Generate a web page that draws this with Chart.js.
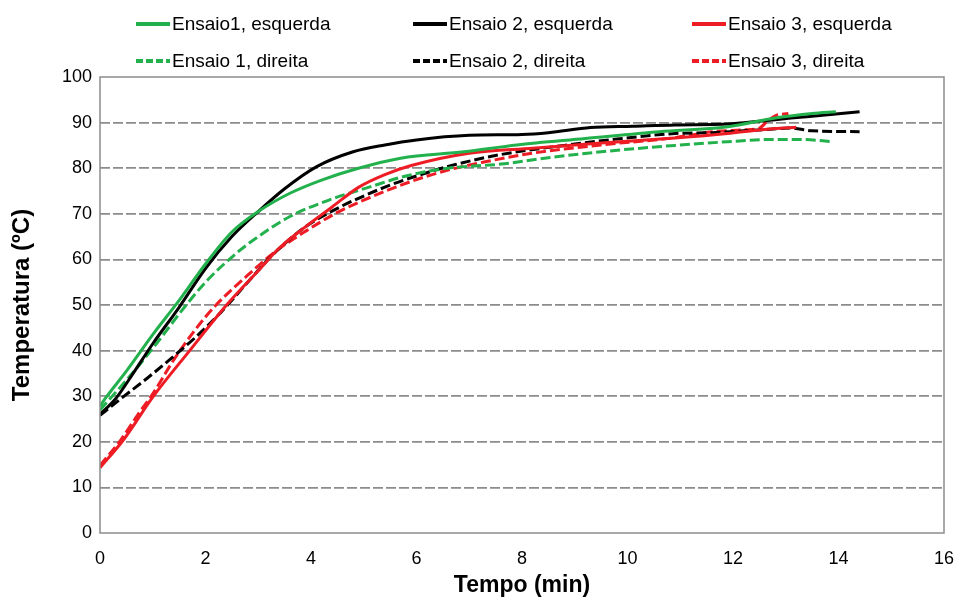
<!DOCTYPE html>
<html>
<head>
<meta charset="utf-8">
<script src="https://cdn.jsdelivr.net/npm/chart.js@4"></script>
<style>
  html, body { margin: 0; padding: 0; background: #fff; }
  #wrap { position: relative; width: 957px; height: 597px; font-family: "Liberation Sans", Arial, sans-serif; }
  #legend { position: absolute; left: 0; top: 0; width: 957px; height: 80px; }
  .lg-item { position: absolute; display: flex; align-items: center; font-size: 19px; color: #000; white-space: nowrap; }
  .lg-item svg { margin-right: 2px; }
</style>
</head>
<body>
<div id="wrap">
  <canvas id="chart" width="957" height="597"></canvas>
  <div id="legend"></div>
</div>
<script>
// ── DADOS ─────────────────────────────────────────────
const LABELS = ['Ensaio1, esquerda', 'Ensaio 2, esquerda', 'Ensaio 3, esquerda',
                'Ensaio 1, direita', 'Ensaio 2, direita', 'Ensaio 3, direita'];
const X_TICKS = [0, 2, 4, 6, 8, 10, 12, 14, 16];
const Y_TICKS = [0, 10, 20, 30, 40, 50, 60, 70, 80, 90, 100];

// Ensaio 1, esquerda
const t1e = [0, 0.1, 0.5, 1.0, 1.5, 2.0, 2.5, 3.0, 3.6, 4.2, 4.9, 5.7, 6.9, 7.9, 9.2, 10.6, 11.9, 12.8, 13.5, 13.95];
const T1e = [27.8, 29.5, 35.5, 43.5, 51, 59, 66, 70.5, 74.5, 77.4, 80.0, 82.2, 83.6, 85.1, 86.5, 88.0, 89.1, 91.0, 92.0, 92.4];
// Ensaio 2, esquerda
const t2e = [0, 0.3, 0.6, 1.0, 1.5, 2.0, 2.5, 3.0, 3.5, 4.1, 4.8, 5.4, 6.0, 7.0, 8.0, 8.5, 9.3, 10.1, 10.9, 11.9, 12.5, 13.1, 13.8, 14.4];
const T2e = [26, 29.5, 34.5, 41.5, 49.5, 58, 65, 70.5, 75.5, 80.3, 83.6, 85.1, 86.2, 87.2, 87.4, 87.8, 88.9, 89.2, 89.5, 89.7, 90.3, 91.0, 91.7, 92.4];
// Ensaio 3, esquerda
const t3e = [0, 0.45, 1.0, 1.7, 2.4, 3.0, 3.4, 3.9, 4.4, 4.9, 5.4, 5.9, 7.0, 8.2, 9.5, 10.9, 11.9, 12.5, 13.2];
const T3e = [14.3, 20.5, 29.8, 40, 50, 57.5, 62.5, 67.2, 71.5, 75.8, 78.6, 80.6, 83.3, 84.4, 85.5, 86.6, 87.6, 88.4, 89.0];
// Ensaio 1, direita
const t1d = [0, 0.5, 1.0, 1.6, 2.0, 2.6, 3.0, 3.6, 4.36, 5.12, 5.8, 6.6, 7.6, 8.5, 9.5, 10.9, 11.9, 12.7, 13.3, 13.9];
const T1d = [27, 33.5, 40.5, 49.5, 55, 61.5, 65, 69.4, 73.1, 75.9, 78.3, 80, 80.9, 82.3, 83.6, 85, 85.8, 86.3, 86.3, 85.8];
// Ensaio 2, direita
const t2d = [0, 0.4, 0.9, 1.4, 1.8, 2.3, 2.8, 3.3, 3.9, 4.5, 4.9, 5.5, 6.0, 6.7, 7.6, 8.8, 9.8, 10.9, 11.6, 12.5, 13.1, 13.5, 14.4];
const T2d = [25.8, 29.5, 34, 38.8, 42.8, 48.5, 55, 61.3, 67.2, 71.2, 73.4, 76.3, 78.3, 80.7, 83.0, 85.0, 86.4, 87.6, 87.8, 88.4, 88.8, 88.2, 88.0];
// Ensaio 3, direita
const t3d = [0, 0.4, 0.75, 1.0, 1.4, 1.8, 2.2, 2.75, 3.3, 3.9, 4.5, 5.0, 5.9, 6.6, 7.3, 8.2, 9.5, 10.9, 11.6, 12.2, 12.5, 12.65, 12.8, 13.05];
const T3d = [14.8, 20.5, 26.5, 30.5, 38, 44.5, 50, 56, 61.5, 66.2, 70.3, 73.0, 77.1, 79.6, 81.4, 83.3, 85.1, 86.7, 88.0, 88.4, 88.8, 90.3, 91.5, 92.0];

const GREEN = '#22b14c', BLACK = '#000000', RED = '#ee1c24';
const SERIES = [
  [t1e, T1e, GREEN, false], [t2e, T2e, BLACK, false], [t3e, T3e, RED, false],
  [t1d, T1d, GREEN, true],  [t2d, T2d, BLACK, true],  [t3d, T3d, RED, true],
];

const pts = (xs, ys) => xs.map((x, i) => ({ x, y: ys[i] }));

const datasets = SERIES.map(([xs, ys, color, dashed], i) => ({
  label: LABELS[i],
  data: pts(xs, ys),
  borderColor: color,
  backgroundColor: color,
  borderWidth: 3,
  borderDash: dashed ? [10, 4] : [],
  pointRadius: 0,
  cubicInterpolationMode: 'monotone',
  fill: false,
}));

// ── LEGENDA (HTML) ────────────────────────────────────
const LEG_X = [136, 413, 692];
const LEG_Y = [24, 61];
document.getElementById('legend').innerHTML = datasets.map((d, i) => {
  const col = i % 3, row = Math.floor(i / 3);
  const dash = d.borderDash.length ? 'stroke-dasharray="7,3"' : '';
  return `<div class="lg-item" style="left:${LEG_X[col]}px;top:${LEG_Y[row] - 12}px;height:24px">
    <svg width="34" height="8"><line x1="0" y1="4" x2="34" y2="4" stroke="${d.borderColor}" stroke-width="4" ${dash}/></svg>
    <span>${d.label}</span>
  </div>`;
}).join('');

// caixa cinza à volta da área do gráfico
const boxPlugin = {
  id: 'box',
  afterDraw(chart) {
    const { ctx, chartArea: a } = chart;
    ctx.save();
    ctx.strokeStyle = '#8c8c8c';
    ctx.lineWidth = 1.5;
    ctx.strokeRect(a.left, a.top, a.right - a.left, a.bottom - a.top);
    ctx.restore();
  }
};

const FONT = 'Liberation Sans, Arial, sans-serif';

new Chart(document.getElementById('chart').getContext('2d'), {
  type: 'line',
  data: { datasets },
  plugins: [boxPlugin],
  options: {
    responsive: false,
    animation: false,
    layout: { padding: { top: 77, right: 13, left: 0, bottom: 0 } },
    plugins: { legend: { display: false }, tooltip: { enabled: false } },
    scales: {
      x: {
        type: 'linear', min: 0, max: 16,
        afterBuildTicks: s => { s.ticks = X_TICKS.map(v => ({ value: v })); },
        afterFit: s => { s.height = 64; s.paddingLeft = 0; s.paddingRight = 0; },
        grid: { display: false, drawTicks: false },
        border: { display: false },
        ticks: { color: '#000', padding: 15, font: { family: FONT, size: 18 } },
        title: { display: true, text: 'Tempo (min)', color: '#000', padding: 0,
                 font: { family: FONT, size: 23, weight: 'bold', lineHeight: 1 } },
      },
      y: {
        min: 0, max: 100,
        afterBuildTicks: s => { s.ticks = Y_TICKS.map(v => ({ value: v })); },
        afterFit: s => { s.width = 100; s.paddingTop = 0; s.paddingBottom = 0; },
        grid: {
          drawTicks: false,
          color: c => (c.tick.value === 0 || c.tick.value === 100) ? 'rgba(0,0,0,0)' : '#8c8c8c',
          lineWidth: 1.8,
        },
        border: { display: false, dash: [10, 3] },
        ticks: { color: '#000', padding: 8, font: { family: FONT, size: 18 } },
        title: { display: true, text: 'Temperatura (ºC)', color: '#000', padding: { top: 10, bottom: 0 },
                 font: { family: FONT, size: 24, weight: 'bold', lineHeight: 1 } },
      },
    },
  },
});
</script>
</body>
</html>
